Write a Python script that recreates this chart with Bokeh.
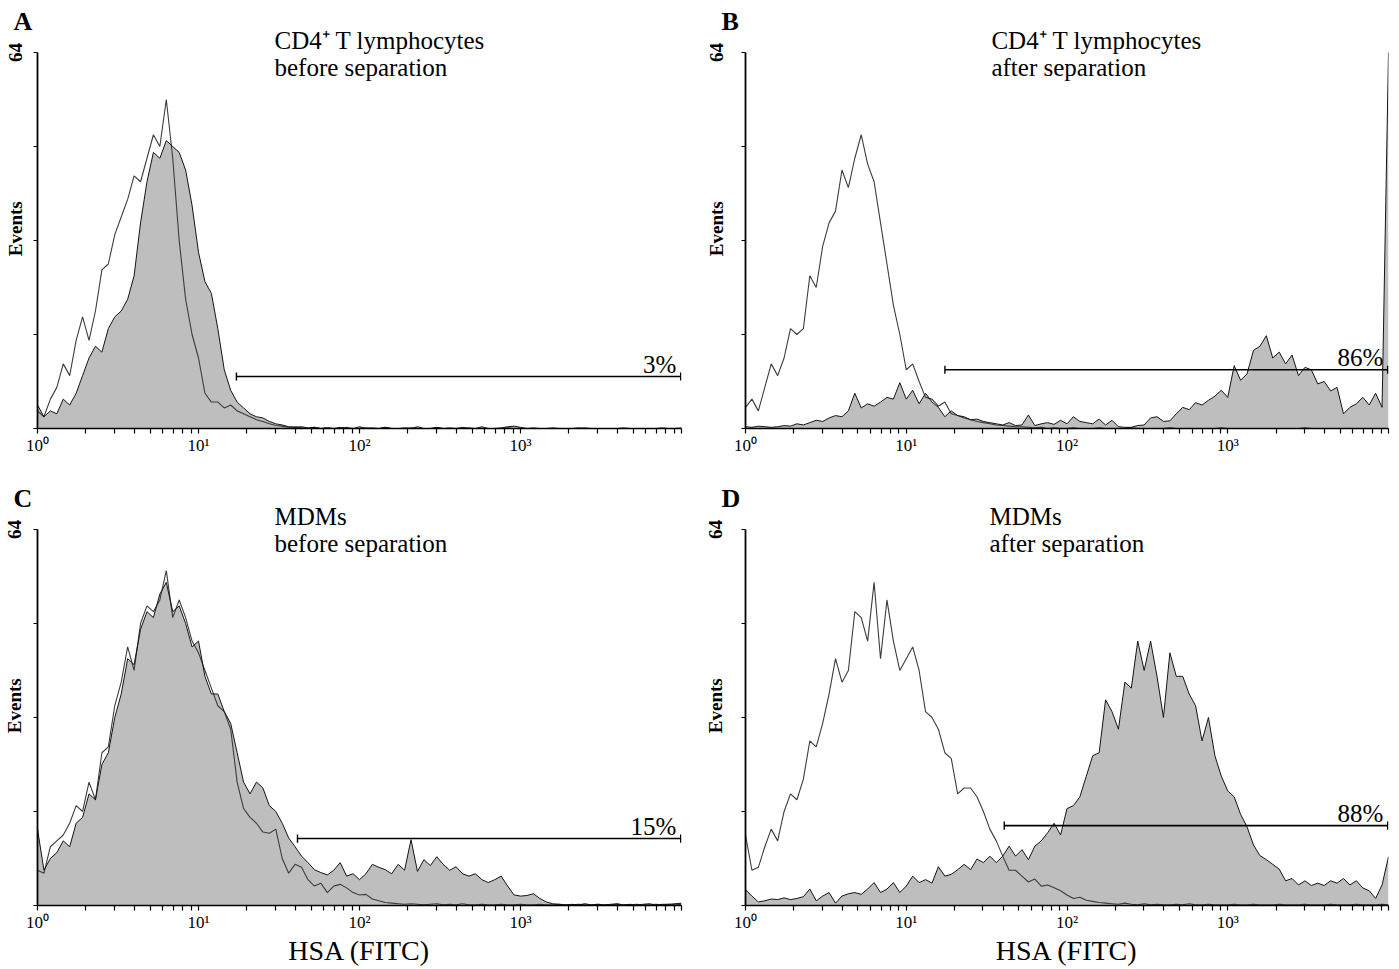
import math
from bokeh.plotting import figure
from bokeh.models import FixedTicker, Range1d, Label, LinearAxis
from bokeh.layouts import column, row
from bokeh.embed import file_html
from bokeh.resources import INLINE

# ---------------- data ----------------
# histogram channels: log10 of HSA (FITC) fluorescence, 0.04-decade bins (10^0 .. 10^4)
log_channel = [round(0.04 * i, 2) for i in range(101)]

# A: CD4+ T lymphocytes before separation
A_open = [3, 2, 5, 7, 11, 9, 15, 19, 15, 20,
          27, 28, 33, 36, 39, 43, 42, 46, 50, 48,
          56, 46, 32, 22, 16, 12, 6, 4.5, 4.5, 3.5,
          4, 3, 2.5, 2, 1.5, 1.2, 0.8, 0.5, 0.4, 0.2,
          0.3, 0.1, 0, 0.2, 0, 0.1, 0, 0, 0.2, 0,
          0, 0.1, 0, 0, 0.2, 0, 0, 0, 0.1, 0,
          0, 0, 0.1, 0, 0, 0, 0, 0.1, 0, 0,
          0, 0, 0, 0.1, 0, 0, 0, 0, 0, 0,
          0, 0, 0, 0, 0.1, 0, 0, 0, 0, 0,
          0, 0, 0, 0, 0, 0, 0, 0, 0, 0,
          0]
A_filled = [4, 2, 3, 2.5, 5, 4, 6, 9, 12, 14,
            13, 17, 19, 20, 22, 26, 35, 42, 47, 46,
            49, 48, 47, 44, 38, 30, 25, 23, 17, 10,
            6.5, 4.5, 3.5, 2.5, 2, 1.8, 1.2, 0.8, 0.6, 0.3,
            0.2, 0.3, 0.1, 0.2, 0, 0.1, 0, 0.2, 0, 0,
            0.3, 0, 0.1, 0, 0.2, 0, 0, 0.1, 0, 0.3,
            0, 0, 0.2, 0, 0.1, 0, 0.2, 0, 0, 0.3,
            0, 0, 0.1, 0.3, 0.4, 0.2, 0, 0.1, 0, 0,
            0.1, 0, 0, 0, 0, 0.1, 0, 0, 0, 0,
            0, 0.1, 0, 0, 0, 0, 0, 0.1, 0, 0,
            0.1]

# B: CD4+ T lymphocytes after separation
B_open = [3.6, 5, 3, 7, 11, 9, 12, 17, 16, 17,
          26, 24, 31, 35, 37, 44, 41, 46, 50, 45,
          42, 35, 28, 21, 16, 10, 11, 8, 5.3, 5,
          3.8, 4.5, 2.5, 2.2, 1.8, 1.5, 1.2, 1, 0.8, 0.6,
          0.5, 0.4, 0.3, 0.3, 0.2, 0.1, 0.2, 0, 0.1, 0,
          0, 0.1, 0, 0, 0, 0.1, 0, 0, 0, 0,
          0.1, 0, 0, 0, 0, 0, 0.1, 0, 0, 0,
          0, 0, 0, 0, 0.1, 0, 0, 0, 0, 0,
          0, 0, 0, 0, 0, 0, 0, 0.1, 0, 0,
          0, 0, 0, 0, 0, 0, 0, 0, 0, 0,
          0]
B_filled = [0.3, 0.2, 0.4, 0.3, 0.2, 0.3, 0.5, 0.4, 0.8, 0.6,
            1.0, 1.4, 1.2, 1.8, 2.2, 2.0, 3.0, 6.0, 3.5, 4.2,
            3.8, 4.5, 5.3, 5.0, 7.8, 5.0, 6.5, 4.2, 6.0, 4.5,
            3.6, 2.0, 3.0, 2.2, 2.0, 1.5, 1.6, 1.2, 1.0, 0.8,
            0.6, 1.0, 0.5, 0.6, 2.3, 0.5, 0.8, 1.0, 0.7, 1.4,
            0.8, 2.0, 1.2, 1.0, 0.8, 1.6, 0.6, 1.4, 0.3, 0.2,
            0.2, 0.5, 0.6, 1.8, 2.0, 1.2, 1.3, 2.5, 3.6, 3.2,
            4.4, 4.0, 4.8, 5.5, 6.5, 5.3, 10.7, 8.2, 9.3, 13.3,
            14, 15.8, 12, 13, 11, 12.5, 9, 10.4, 10, 7.6,
            8, 6.4, 7, 2.5, 3.6, 4.2, 5.3, 4, 6, 3.6,
            64]

# C: MDMs before separation
C_open = [6, 5.5, 10, 11, 12, 14, 17, 16, 21, 18,
          26, 27, 34, 38, 44, 40, 48, 51, 50, 52,
          57, 49, 52, 49, 45, 43, 40, 37, 34, 33,
          30, 21, 16.5, 15, 14, 12.5, 12.3, 13, 8, 5.5,
          7, 6.5, 4.4, 3.3, 3.8, 2.2, 3.3, 3.6, 3, 2.2,
          1.8, 1.9, 1.1, 0.8, 0.5, 0.4, 0.3, 0.2, 0.3, 0.2,
          0.1, 0.2, 0.3, 0.1, 0.2, 0.1, 0.3, 0.1, 0.1, 0.2,
          0.1, 0.1, 0.2, 0.1, 0.1, 0.2, 0.1, 0.1, 0.2, 0.1,
          0.1, 0.2, 0.1, 0.1, 0.2, 0.1, 0.1, 0.2, 0.1, 0.1,
          0.2, 0.1, 0.1, 0.2, 0.1, 0.1, 0.2, 0.1, 0.2, 0.1,
          0.2]
C_filled = [13, 6, 8, 9, 11, 10, 14, 15, 19, 18,
            24, 26, 32, 36, 42, 41, 47, 50, 49, 53,
            55, 50, 51, 48, 44, 45, 39, 36, 36, 33,
            31, 26, 21, 19, 21, 20, 17, 16, 14, 11.5,
            10, 8.4, 7.3, 6.1, 5.6, 5.2, 6, 7.3, 5, 5.4,
            4.4, 5.4, 7, 6.5, 6.1, 5.4, 7, 6, 11.2, 5.8,
            7.8, 6.8, 8.3, 7, 6, 6.6, 5.4, 5, 5.4, 4.4,
            3.9, 4.4, 5, 3.3, 1.8, 1.6, 1.7, 2.0, 1.2, 0.6,
            0.3, 0.2, 0.1, 0.2, 0.1, 0.3, 0.1, 0.2, 0.1, 0.2,
            0.3, 0.1, 0.2, 0.1, 0.2, 0.3, 0.1, 0.2, 0.2, 0.3,
            0.4]

# D: MDMs after separation
D_open = [12, 6, 6.5, 10, 13, 11, 16, 19, 18, 21.5,
          28, 27, 31, 36, 42, 38, 40, 50, 49, 45,
          55, 42, 52, 45, 40, 42, 44, 40, 33, 32,
          30, 26, 25, 19, 20, 20, 18.5, 16, 13, 11,
          8.4, 6, 6, 5, 4, 4.5, 3.3, 3.5, 3, 2.5,
          1.8, 1.2, 1.4, 0.9, 0.7, 0.5, 0.4, 0.3, 0.2, 0.4,
          0.2, 0.1, 0.3, 0.1, 0.2, 0.1, 0.1, 0.2, 0.1, 0.3,
          0.1, 0.1, 0.2, 0.1, 0.1, 0.1, 0.2, 0.1, 0.1, 0.2,
          0.1, 0.1, 0.1, 0.2, 0.1, 0.1, 0.1, 0.2, 0.1, 0.1,
          0.1, 0.2, 0.1, 0.1, 0.1, 0.2, 0.1, 0.1, 0.1, 0.2,
          0.1]
D_filled = [2.7, 1.6, 0.6, 0.8, 1.1, 1.0, 1.3, 1.0, 1.2, 1.5,
            2.8, 0.8, 1.6, 2.2, 0.4, 1.6, 2.0, 2.2, 1.9, 2.8,
            3.9, 2.2, 2.8, 3.9, 2.2, 3.3, 5.0, 3.9, 4.4, 3.8,
            6.6, 5.0, 5.3, 6.1, 7.0, 6.1, 7.9, 7.3, 8.4, 7.3,
            8.4, 10.1, 8.4, 9.5, 7.8, 10.1, 11.0, 12.4, 14.0, 12.0,
            16.5, 17.0, 18.5, 22.0, 25.5, 26.0, 35.0, 33.0, 30.0, 38.0,
            37.0, 45.0, 40.0, 45.0, 39.0, 32.0, 43.0, 39.0, 39.0, 36.0,
            34.0, 28.0, 32.0, 25.5, 22.0, 19.5, 18.5, 15.5, 13.4, 10.3,
            8.5, 7.8, 7.0, 6.2, 4.2, 4.6, 3.5, 4.2, 3.4, 3.8,
            3.4, 4.2, 3.8, 4.6, 3.5, 4.2, 3.0, 2.5, 1.2, 3.5,
            8.3]

panel_letters = ["A", "B", "C", "D"]
cell_types = ["CD4\u207a T lymphocytes", "CD4\u207a T lymphocytes", "MDMs", "MDMs"]
stages = ["before separation", "after separation", "before separation", "after separation"]
gate_start = [17.2, 17.4, 41.2, 40.7]
gate_level = [8.85, 10.0, 11.4, 13.6]
gate_label = ["3%", "86%", "15%", "88%"]
x_ticks = [1, 10, 100, 1000, 10000]
x_tick_labels = ["10\u2070", "10\u00b9", "10\u00b2", "10\u00b3", ""]
y_ticks = [0, 16, 32, 48, 64]
y_side_ticks = [34, 64]
y_side_labels = ["Events", "64"]
x_title = "HSA (FITC)"

open_series = [A_open, B_open, C_open, D_open]
filled_series = [A_filled, B_filled, C_filled, D_filled]

# ---------------- style ----------------
SERIF = "Liberation Serif"
FILL = "#bebebe"
OPEN_LINE = "#3c3c3c"
FILL_LINE = "#141414"
minor_ticks = [m * 10 ** k for k in range(4) for m in range(2, 10)]
Y_MAX = 64


def build(i):
    right_col = i in (1, 3)
    bottom_row = i in (2, 3)
    frame_w = 643 if right_col else 644
    px_per = 377 / 64 if bottom_row else 376 / 64     # pixels per count
    lb = 44 if right_col else 37
    rb = 8 if right_col else 20
    tb = 30                                           # frame top; letter title sits above it
    above = 52 - tb                                    # room kept above the 64 line
    frame_h = round(Y_MAX * px_per + above)
    bb = 62 if bottom_row else 49
    y_top = Y_MAX + above / px_per
    p = figure(width=lb + frame_w + rb, height=tb + frame_h + bb,
               x_axis_type="log", x_range=Range1d(1, 10000), y_range=Range1d(0, y_top),
               output_backend="svg", toolbar_location=None,
               min_border_left=lb, min_border_right=rb,
               min_border_top=tb, min_border_bottom=bb)
    p.grid.visible = False
    p.outline_line_color = None
    p.background_fill_color = "white"
    p.border_fill_color = "white"

    # panel letter as the figure title, pulled to the left of the y axis
    p.title.text = panel_letters[i]
    p.title.align = "left"
    p.title.offset = -24
    p.title.standoff = -11
    p.title.text_font = SERIF
    p.title.text_font_size = "26px"
    p.title.text_font_style = "bold"
    p.title.text_color = "black"

    x = [10 ** v for v in log_channel]
    p.varea(x=x, y1=[0] * len(x), y2=filled_series[i], fill_color=FILL)
    p.line(x, open_series[i], line_color=OPEN_LINE, line_width=1.1)
    p.line(x, filled_series[i], line_color=FILL_LINE, line_width=1.0)

    # gate marker
    g0, g1, gy = gate_start[i], 10 ** 3.995, gate_level[i]
    p.segment(x0=[g0], y0=[gy], x1=[g1], y1=[gy], line_color="black", line_width=1.6)
    p.segment(x0=[g0, g1], y0=[gy - 0.7, gy - 0.7], x1=[g0, g1], y1=[gy + 0.7, gy + 0.7],
              line_color="black", line_width=1.4)
    fs = 25
    p.add_layout(Label(x=10 ** 3.968, y=gy + (4 + 0.34 * fs) / px_per, text=gate_label[i],
                       text_align="right", text_baseline="middle", text_font=SERIF,
                       text_font_size=f"{fs}px", text_color="black"))

    # x axis
    xa = p.xaxis[0]
    xa.ticker = FixedTicker(ticks=x_ticks, minor_ticks=minor_ticks)
    xa.major_label_overrides = {t: s for t, s in zip(x_ticks, x_tick_labels)}
    xa.major_label_text_font = SERIF
    xa.major_label_text_font_size = "17px"
    xa.major_label_text_color = "black"
    xa.major_label_standoff = 2
    xa.axis_line_width = 1.6
    xa.axis_line_color = "black"
    xa.major_tick_in = 0
    xa.major_tick_out = 5
    xa.minor_tick_in = 0
    xa.minor_tick_out = 5
    xa.major_tick_line_width = 1.2
    xa.minor_tick_line_width = 1.2
    if bottom_row:
        xa.axis_label = x_title
        xa.axis_label_text_font = SERIF
        xa.axis_label_text_font_size = "28px"
        xa.axis_label_text_font_style = "normal"
        xa.axis_label_text_color = "black"
        xa.axis_label_standoff = 0

    # y axis: ticks only, 0..64
    ya = p.yaxis[0]
    ya.bounds = (0, Y_MAX)
    ya.ticker = FixedTicker(ticks=y_ticks)
    ya.major_label_overrides = {t: "" for t in y_ticks}
    ya.major_label_text_font_size = "1px"
    ya.major_label_standoff = 0
    ya.axis_line_width = 1.8
    ya.axis_line_color = "black"
    ya.major_tick_in = 0
    ya.major_tick_out = 4
    ya.major_tick_line_width = 1.2
    ya.minor_tick_out = 0
    ya.minor_tick_in = 0

    # outer left axis carrying the rotated "64" and "Events" texts
    ya2 = LinearAxis(ticker=FixedTicker(ticks=y_side_ticks),
                     major_label_overrides={t: s for t, s in zip(y_side_ticks, y_side_labels)},
                     major_label_orientation="vertical",
                     axis_line_color=None, major_tick_line_color=None,
                     minor_tick_line_color=None, major_tick_out=0, major_tick_in=0,
                     minor_tick_out=0, minor_tick_in=0,
                     major_label_standoff=15 if right_col else 8,
                     major_label_text_font=SERIF, major_label_text_font_style="bold",
                     major_label_text_font_size="19px", major_label_text_color="black")
    p.add_layout(ya2, "left")

    # panel titles (inside the frame, above the histogram)
    tx = 10 ** (1.53 if i == 1 else (1.518 if i == 3 else 1.472))
    ts = 25
    p.add_layout(Label(x=tx, y=Y_MAX + (4 + 0.34 * ts) / px_per, text=cell_types[i],
                       text_align="left", text_baseline="middle", text_font=SERIF,
                       text_font_size=f"{ts}px", text_color="black"))
    p.add_layout(Label(x=tx, y=Y_MAX - (23 - 0.34 * ts) / px_per, text=stages[i],
                       text_align="left", text_baseline="middle", text_font=SERIF,
                       text_font_size=f"{ts}px", text_color="black"))
    return p


panels = [build(i) for i in range(4)]
layout = column(row(panels[0], panels[1]), row(panels[2], panels[3]))

with open("out.html", "w") as f:
    f.write(file_html(layout, INLINE, "HSA (FITC) histograms"))
